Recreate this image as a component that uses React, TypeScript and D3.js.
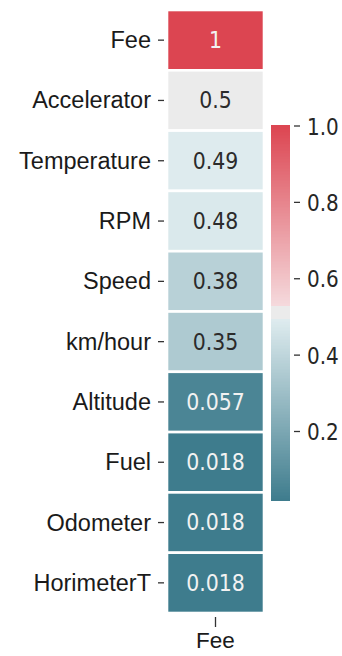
import React from "react";
import * as d3 from "d3";

const labels = ["Fee", "Accelerator", "Temperature", "RPM", "Speed", "km/hour", "Altitude", "Fuel", "Odometer", "HorimeterT"];
const values = [1, 0.5, 0.49, 0.48, 0.38, 0.35, 0.057, 0.018, 0.018, 0.018];
const columnLabels = ["Fee"];
const colorbarTicks = [0.2, 0.4, 0.6, 0.8, 1.0];

const W = 342;
const H = 656;
const vmin = 0.018;
const vmax = 1.0;

const cellX0 = 167;
const cellX1 = 264;
const rowsTop = 10;
const rowsBottom = 613;

const cbX0 = 271;
const cbX1 = 290;
const cbTop = 125;
const cbBottom = 500;

function makeColor() {
  const t = (f: number) => vmin + f * (vmax - vmin);
  const s = d3
    .scaleLinear<string>()
    .domain([t(0), t(0.485), t(0.4851), t(0.52), t(0.5201), t(1)])
    .range(["#3e7c8d", "#dfecef", "#ebebeb", "#ebebeb", "#f5dadd", "#dc4551"])
    .interpolate(d3.interpolateRgb)
    .clamp(true);
  return s;
}

export default function App() {
  const color = makeColor();
  const y = d3.scaleBand<string>().domain(labels).range([rowsTop, rowsBottom]).padding(0);
  const x = d3.scaleBand<string>().domain(columnLabels).range([cellX0, cellX1]).padding(0);
  const cb = d3.scaleLinear().domain([vmin, vmax]).range([cbBottom, cbTop]);
  const fmt = d3.format(".2~g");
  const tickFmt = d3.format(".1f");

  const nStrips = 250;
  const strips = d3.range(nStrips).map((i) => {
    const v0 = vmin + (i / nStrips) * (vmax - vmin);
    const v1 = vmin + ((i + 1) / nStrips) * (vmax - vmin);
    return { v: (v0 + v1) / 2, y0: cb(v1), y1: cb(v0) };
  });

  const textColor = (v: number) => {
    const c = d3.rgb(color(v));
    const lum = (0.2126 * c.r + 0.7152 * c.g + 0.0722 * c.b) / 255;
    return lum > 0.6 ? "#2b2b2b" : "#f2f2f2";
  };

  const labelFont = "'Liberation Sans', Arial, Helvetica, sans-serif";
  const numFont = "'DejaVu Sans', sans-serif";

  return (
    <div style={{ position: "absolute", left: 0, top: 0, width: W, height: H }}>
      <svg width={W} height={H} style={{ display: "block", background: "#ffffff" }}>
        {labels.map((lab, i) => {
          const v = values[i];
          const yy = y(lab) as number;
          const xx = x(columnLabels[0]) as number;
          return (
            <g key={lab}>
              <rect
                x={xx}
                y={yy}
                width={x.bandwidth()}
                height={y.bandwidth()}
                fill={color(v)}
                stroke="#ffffff"
                strokeWidth={2.6}
              />
              <text
                transform={`translate(${xx + x.bandwidth() / 2},${yy + y.bandwidth() / 2}) scale(1,1.12)`}
                textAnchor="middle"
                dominantBaseline="central"
                fontFamily={numFont}
                fontSize={20.5}
                fill={textColor(v)}
              >
                {fmt(v)}
              </text>
              <line
                x1={cellX0 - 9}
                x2={cellX0 - 3}
                y1={yy + y.bandwidth() / 2}
                y2={yy + y.bandwidth() / 2}
                stroke="#333"
                strokeWidth={1.3}
              />
              <text
                x={151}
                y={yy + y.bandwidth() / 2}
                textAnchor="end"
                dominantBaseline="central"
                fontFamily={labelFont}
                fontSize={23.5}
                fill="#1a1a1a"
              >
                {lab}
              </text>
            </g>
          );
        })}

        {columnLabels.map((c) => {
          const cx = (x(c) as number) + x.bandwidth() / 2;
          return (
            <g key={c}>
              <line x1={cx} x2={cx} y1={rowsBottom + 4} y2={rowsBottom + 14} stroke="#333" strokeWidth={1.3} />
              <text
                x={cx}
                y={648}
                textAnchor="middle"
                fontFamily={labelFont}
                fontSize={22.5}
                fill="#1a1a1a"
              >
                {c}
              </text>
            </g>
          );
        })}

        <g>
          {strips.map((s, i) => (
            <rect
              key={i}
              x={cbX0}
              y={s.y0}
              width={cbX1 - cbX0}
              height={s.y1 - s.y0 + 0.6}
              fill={color(s.v)}
              shapeRendering="crispEdges"
            />
          ))}
          {colorbarTicks.map((t) => (
            <g key={t}>
              <line x1={cbX1 + 4} x2={cbX1 + 10} y1={cb(t) + 1} y2={cb(t) + 1} stroke="#333" strokeWidth={1.3} />
              <text
                transform={`translate(${307},${cb(t) + 1.5}) scale(1,1.15)`}
                dominantBaseline="central"
                fontFamily={numFont}
                fontSize={20}
                fill="#262626"
              >
                {tickFmt(t)}
              </text>
            </g>
          ))}
        </g>
      </svg>
    </div>
  );
}
